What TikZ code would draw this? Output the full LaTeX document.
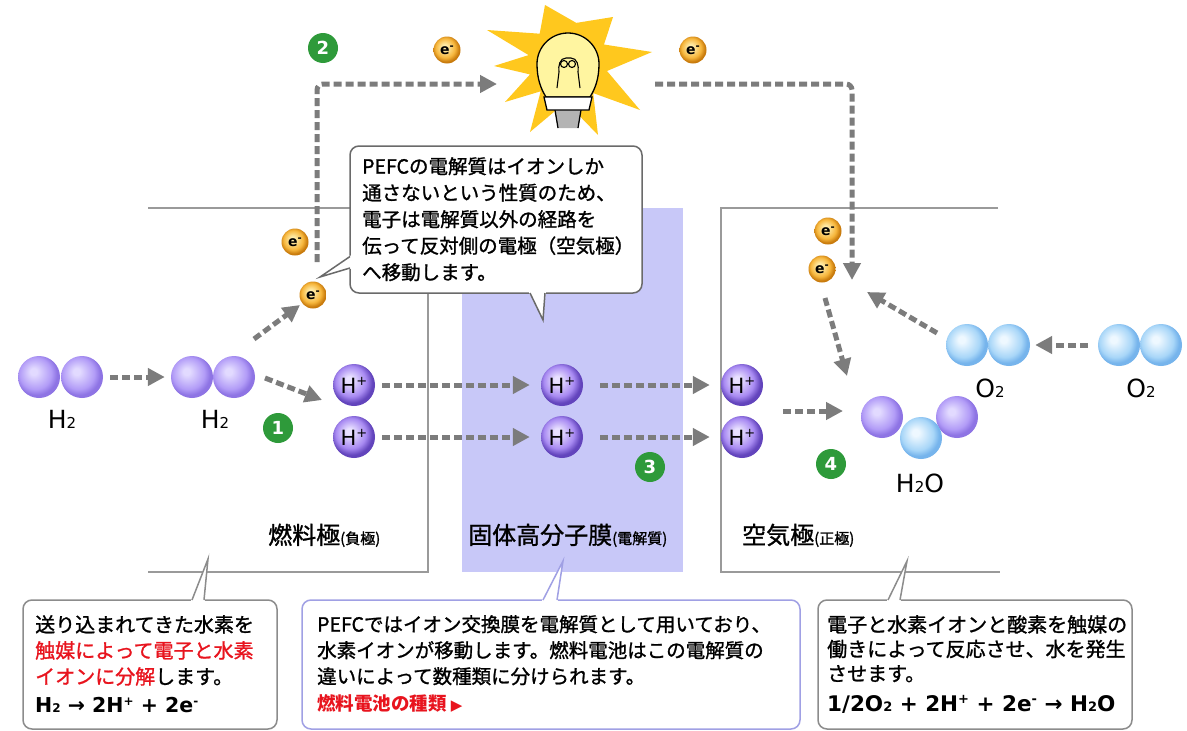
\documentclass[tikz,border=0pt]{standalone}
\usepackage{fontspec}
\setmainfont{Noto Sans CJK JP}[UprightFeatures={FakeBold=1.2}]
\newfontfamily\lat{DejaVu Sans}
\usetikzlibrary{arrows.meta}

% palette
\definecolor{flowgray}{HTML}{7C7C7C}
\definecolor{rimgray}{HTML}{9A9A9A}
\definecolor{membranefill}{HTML}{C8C8F8}
\definecolor{stepgreen}{HTML}{2E9A3A}
\definecolor{linkred}{HTML}{E8141E}
\definecolor{boxblue}{HTML}{A0A0E4}
\definecolor{boxgray}{HTML}{8C8C8C}
\definecolor{callgray}{HTML}{6A6A6A}
\definecolor{staryellow}{HTML}{FFC81E}
\definecolor{glassyellow}{HTML}{FFF5A0}
\definecolor{stemgray}{HTML}{B4B4B4}
% sphere tones: light / middle / dark rim
\definecolor{hLt}{HTML}{E2DAFF}
\definecolor{hMd}{HTML}{B29CF7}
\definecolor{hDk}{HTML}{8E74E4}
\definecolor{oLt}{HTML}{EEF8FF}
\definecolor{oMd}{HTML}{A8D6F8}
\definecolor{oDk}{HTML}{76B4EC}
\definecolor{iLt}{HTML}{E8E0FF}
\definecolor{iMd}{HTML}{A88AF2}
\definecolor{iDk}{HTML}{6244BC}
\definecolor{eLt}{HTML}{FFEBA6}
\definecolor{eMd}{HTML}{F6B63C}
\definecolor{eDk}{HTML}{C87A0C}

\pgfdeclareradialshading{hball}{\pgfpoint{-7bp}{7bp}}{color(0bp)=(hLt); color(4bp)=(hLt); color(19bp)=(hMd); color(25bp)=(hDk); color(50bp)=(hDk)}
\pgfdeclareradialshading{oball}{\pgfpoint{-7bp}{7bp}}{color(0bp)=(oLt); color(4bp)=(oLt); color(19bp)=(oMd); color(25bp)=(oDk); color(50bp)=(oDk)}
\pgfdeclareradialshading{ionball}{\pgfpoint{-6bp}{7bp}}{color(0bp)=(iLt); color(4bp)=(iLt); color(18bp)=(iMd); color(25bp)=(iDk); color(50bp)=(iDk)}
\pgfdeclareradialshading{eball}{\pgfpoint{-5bp}{6bp}}{color(0bp)=(eLt); color(5bp)=(eLt); color(18bp)=(eMd); color(25bp)=(eDk); color(50bp)=(eDk)}

\tikzset{
  rimline/.style={draw=rimgray, line width=1.5pt},
  flow/.style={draw=flowgray, line width=5pt, dash pattern=on 8pt off 4pt,
    -{Triangle[length=17pt,width=17pt]}},
  flowpath/.style={flow, rounded corners=6pt},
  atomnode/.style={circle, inner sep=0pt, minimum size=#1, shade},
  hsphere/.style={atomnode=42pt, shading=hball},
  osphere/.style={atomnode=42pt, shading=oball},
  ionsphere/.style={atomnode=42pt, shading=ionball, font=\lat\fontsize{21}{21}\selectfont},
  elec/.style={atomnode=27pt, shading=eball, font=\lat\bfseries\fontsize{14}{14}\selectfont},
  stepnum/.style={circle, fill=stepgreen, minimum size=30pt, inner sep=0pt, text=white,
    font=\lat\bfseries\fontsize{18}{18}\selectfont},
  mol/.style={anchor=base, inner sep=0pt, font=\lat\fontsize{25}{25}\selectfont},
  zonelabel/.style={anchor=base west, inner sep=0pt},
  notebox/.style={rectangle, rounded corners=9pt, fill=white, line width=1.5pt, inner sep=0pt},
  notetext/.style={anchor=north west, inner sep=0pt, align=left},
  formula/.style={anchor=base west, inner sep=0pt, font=\lat\bfseries\fontsize{20.5}{20.5}\selectfont},
}

\begin{document}
\begin{tikzpicture}[x=1pt,y=-1pt]
\fill[white] (0,0) rectangle (1187,731);
\useasboundingbox (0,0) rectangle (1187,731);

% ---------- cell: electrodes and membrane ----------
\fill[membranefill] (462,208) rectangle (683,572);
\draw[rimline] (148,208) -- (428,208) -- (428,572) -- (148,572);
\draw[rimline] (998,208) -- (721,208) -- (721,572) -- (1000,572);

\node[zonelabel] (fuelLab) at (268,544) {{\fontsize{24}{24}\selectfont 燃料極}{\fontsize{15}{15}\selectfont (負極)}};
\node[zonelabel] (pemLab) at (468,544) {{\fontsize{24}{24}\selectfont 固体高分子膜}{\fontsize{15}{15}\selectfont (電解質)}};
\node[zonelabel] (airLab) at (742,544) {{\fontsize{24}{24}\selectfont 空気極}{\fontsize{15}{15}\selectfont (正極)}};

% ---------- light bulb ----------
\coordinate (bulb) at (568,64);
\fill[staryellow] (545,5) -- (576.3,22.9) -- (613,17) -- (604,44.5) -- (652,52) -- (607,71)
  -- (640,110) -- (593.2,93.1) -- (598,135) -- (565.9,101.9) -- (530,132) -- (540.7,91.3)
  -- (505,102) -- (530,74.4) -- (494,66) -- (528.6,55.1) -- (487,30) -- (539.7,33.7) -- cycle;
\draw[line width=1.3pt, fill=glassyellow] (546,97) .. controls (541,89) and (537,79) .. (537,64)
  arc[start angle=180, end angle=0, radius=31pt]
  .. controls (599,79) and (595,89) .. (590,97) -- cycle;
\draw[line width=1.1pt] (557,88) -- (559,72) to[out=100,in=180] (566,58) -- (571,58)
  to[out=0,in=80] (578,72) -- (580,88);
\draw[line width=1.1pt] (564,64) circle[radius=3.5pt] (572,64) circle[radius=3.5pt];
\fill[stemgray] (555,110) -- (581,110) -- (578,128) -- (558,128) -- cycle;
\draw[line width=1.3pt] (555,110) -- (558,128) (581,110) -- (578,128);
\draw[line width=1.3pt, fill=white] (544,97) -- (592,97) -- (589,110) -- (547,110) -- cycle;

% ---------- electron route through the outer circuit ----------
\coordinate (routeA) at (317,262);
\coordinate (routeB) at (317,84);
\coordinate (routeC) at (497,84);
\coordinate (routeD) at (655,84);
\coordinate (routeE) at (852,84);
\coordinate (routeF) at (852,280);
\draw[flowpath] (routeA) -- (routeB) -- (routeC);
\draw[flowpath] (routeD) -- (routeE) -- (routeF);

\node[elec] (eTopL) at (447,50) {e\raisebox{5pt}{\fontsize{10}{10}\selectfont -}};
\node[elec] (eTopR) at (693,50) {e\raisebox{5pt}{\fontsize{10}{10}\selectfont -}};
\node[stepnum] (s2) at (323,48) {2};

% ---------- fuel side ----------
\node[hsphere] (h2a1) at (39,377) {};
\node[hsphere] (h2a2) at (82,377) {};
\node[mol] (h2aLab) at (62,428) {H{\fontsize{15}{15}\selectfont 2}};
\node[hsphere] (h2b1) at (192,377) {};
\node[hsphere] (h2b2) at (234,377) {};
\node[mol] (h2bLab) at (215,428) {H{\fontsize{15}{15}\selectfont 2}};
\draw[flow, shorten <=7pt, shorten >=6pt] (h2a2.east) -- (h2b1.west);

\node[elec] (eFuel1) at (295,242) {e\raisebox{5pt}{\fontsize{10}{10}\selectfont -}};
\node[elec] (eFuel2) at (313,295) {e\raisebox{5pt}{\fontsize{10}{10}\selectfont -}};
\coordinate (splitE0) at (254,339);
\coordinate (splitE1) at (300,305);
\draw[flow] (splitE0) -- (splitE1);
\coordinate (splitH0) at (265,378);
\coordinate (splitH1) at (322,400);
\draw[flow] (splitH0) -- (splitH1);
\node[stepnum] (s1) at (278,428) {1};

% ---------- hydrogen ions crossing the membrane ----------
\node[ionsphere] (ip1) at (354,385) {H\raisebox{8pt}{\fontsize{13}{13}\selectfont +}};
\node[ionsphere] (ip2) at (354,437) {H\raisebox{8pt}{\fontsize{13}{13}\selectfont +}};
\node[ionsphere] (im1) at (562,385) {H\raisebox{8pt}{\fontsize{13}{13}\selectfont +}};
\node[ionsphere] (im2) at (562,437) {H\raisebox{8pt}{\fontsize{13}{13}\selectfont +}};
\node[ionsphere] (ir1) at (742,385) {H\raisebox{8pt}{\fontsize{13}{13}\selectfont +}};
\node[ionsphere] (ir2) at (742,437) {H\raisebox{8pt}{\fontsize{13}{13}\selectfont +}};
\draw[flow, shorten <=7pt, shorten >=11pt] (ip1.east) -- (im1.west);
\draw[flow, shorten <=7pt, shorten >=11pt] (ip2.east) -- (im2.west);
\draw[flow, shorten <=17pt, shorten >=11pt] (im1.east) -- (ir1.west);
\draw[flow, shorten <=17pt, shorten >=11pt] (im2.east) -- (ir2.west);
\node[stepnum] (s3) at (650,467) {3};

% ---------- air side ----------
\node[elec] (eAir1) at (828,231) {e\raisebox{5pt}{\fontsize{10}{10}\selectfont -}};
\node[elec] (eAir2) at (822,269) {e\raisebox{5pt}{\fontsize{10}{10}\selectfont -}};
\node[osphere] (o2m1) at (967,345) {};
\node[osphere] (o2m2) at (1009,345) {};
\node[mol] (o2mLab) at (990,397) {O{\fontsize{15}{15}\selectfont 2}};
\node[osphere] (o2r1) at (1119,345) {};
\node[osphere] (o2r2) at (1161,345) {};
\node[mol] (o2rLab) at (1141,397) {O{\fontsize{15}{15}\selectfont 2}};
\draw[flow, shorten <=10pt, shorten >=5pt] (o2r1.west) -- (o2m2.east);
\coordinate (oxUp0) at (937,333);
\coordinate (oxUp1) at (867,292);
\draw[flow] (oxUp0) -- (oxUp1);
\coordinate (eDown0) at (825,298);
\coordinate (eDown1) at (847,376);
\draw[flow] (eDown0) -- (eDown1);
\coordinate (ionIn0) at (783,411);
\coordinate (ionIn1) at (843,411);
\draw[flow] (ionIn0) -- (ionIn1);

\node[hsphere] (wH1) at (882,417) {};
\node[hsphere] (wH2) at (957,417) {};
\node[osphere] (wO) at (921,438) {};
\node[mol] (waterLab) at (920,492) {H{\fontsize{15}{15}\selectfont 2}O};
\node[stepnum] (s4) at (831,464) {4};

% ---------- speech balloon above the cell ----------
\node[notebox, draw=callgray, minimum width=292pt, minimum height=147pt] (noteBox) at (496,219.5) {};
\fill[white] (352,255.5) -- (350,255.5) -- (320,277) -- (350,268.8) -- (352,268.8) -- cycle;
\draw[draw=callgray, line width=1.5pt, line join=miter] (350,256.5) -- (320,277) -- (350,268);
\fill[white] (529.2,291) -- (529.2,293) -- (543,320) -- (545.8,293) -- (545.8,291) -- cycle;
\draw[draw=callgray, line width=1.5pt] (530,293) -- (543,320) -- (545,293);
\node[notetext, font=\fontsize{19.5}{26.5}\selectfont] (noteText) at (362,157)
  {PEFCの電解質はイオンしか\\通さないという性質のため、\\電子は電解質以外の経路を\\伝って反対側の電極（空気極）\\へ移動します。};

% ---------- explanation boxes ----------
\node[notebox, draw=boxgray, minimum width=254pt, minimum height=129pt] (fuelBox) at (150,664.5) {};
\fill[white] (191.2,602) -- (191.2,600) -- (208,559) -- (204.8,600) -- (204.8,602) -- cycle;
\draw[draw=boxgray, line width=1.5pt] (192,600) -- (208,559) -- (204,600);
\node[notetext, font=\fontsize{20}{26}\selectfont] (fuelText) at (35,615)
  {送り込まれてきた水素を\\\textcolor{linkred}{触媒によって電子と水素}\\\textcolor{linkred}{イオンに分解}します。};
\node[formula] (fuelEq) at (35,712)
  {H{\fontsize{12}{12}\selectfont 2} → 2H\raisebox{7pt}{\fontsize{12}{12}\selectfont +} + 2e\raisebox{7pt}{\fontsize{12}{12}\selectfont -}};

\node[notebox, draw=boxblue, minimum width=498pt, minimum height=129pt] (pemBox) at (551,664.5) {};
\fill[white] (542.2,602) -- (542.2,600) -- (563,561) -- (557.8,600) -- (557.8,602) -- cycle;
\draw[draw=boxblue, line width=1.5pt] (543,600) -- (563,561) -- (557,600);
\node[notetext, font=\fontsize{19.5}{26}\selectfont] (pemText) at (317,615)
  {PEFCではイオン交換膜を電解質として用いており、\\水素イオンが移動します。燃料電池はこの電解質の\\違いによって数種類に分けられます。};
\node[anchor=base west, inner sep=0pt, text=linkred, font=\bfseries\fontsize{18.5}{18.5}\selectfont] (pemLink) at (317,710)
  {燃料電池の種類 {\lat\fontsize{15}{15}\selectfont ▶}};

\node[notebox, draw=boxgray, minimum width=314pt, minimum height=129pt] (airBox) at (975,664.5) {};
\fill[white] (887.2,602) -- (887.2,600) -- (907,561) -- (900.8,600) -- (900.8,602) -- cycle;
\draw[draw=boxgray, line width=1.5pt] (888,600) -- (907,561) -- (900,600);
\node[notetext, font=\fontsize{20}{24.5}\selectfont] (airText) at (827,615)
  {電子と水素イオンと酸素を触媒の\\働きによって反応させ、水を発生\\させます。};
\node[formula, font=\lat\bfseries\fontsize{21.5}{21.5}\selectfont] (airEq) at (827,711)
  {1/2O{\fontsize{13}{13}\selectfont 2} + 2H\raisebox{7.5pt}{\fontsize{13}{13}\selectfont +} + 2e\raisebox{7.5pt}{\fontsize{13}{13}\selectfont -} → H{\fontsize{13}{13}\selectfont 2}O};
\end{tikzpicture}
\end{document}
